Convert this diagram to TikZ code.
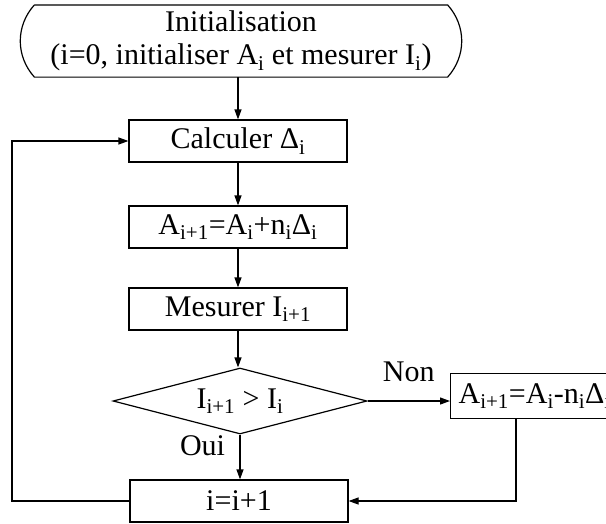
\documentclass[tikz,border=0pt]{standalone}
\usepackage{fontspec}
\setmainfont{Liberation Serif}
\usetikzlibrary{arrows.meta,shapes.geometric}

\begin{document}
\begin{tikzpicture}[
    >={Triangle[length=10pt,width=7pt]},
    x=1pt, y=-1pt,
    line width=1.2pt,
    every node/.style={font=\fontsize{30}{33}\selectfont},
    etape/.style={draw, minimum width=218pt, minimum height=42pt, inner sep=0pt},
    test/.style={draw, diamond, aspect=3.85, minimum width=254pt, minimum height=66pt, inner sep=0pt}
]

\clip (0,0) rectangle (606,523);

% Initialisation
\node[
    minimum width=412pt,
    minimum height=71pt,
    inner sep=0pt,
    align=center
] (init) at (241,41) {Initialisation\\(i=0, initialiser A\textsubscript{i} et mesurer I\textsubscript{i})};

\draw (init.north west) -- (init.north east)
    to[bend left=42] (init.south east) -- (init.south west)
    to[bend left=42] (init.north west);

% Etapes de la boucle
\node[etape] (calc) at (238,141) {Calculer Δ\textsubscript{i}};
\node[etape] (maj) at (238,227) {A\textsubscript{i+1}=A\textsubscript{i}+n\textsubscript{i}Δ\textsubscript{i}};
\node[etape] (mes) at (238,309) {Mesurer I\textsubscript{i+1}};

% Test
\node[test] (dia) at (240,401) {I\textsubscript{i+1} > I\textsubscript{i}};

% Retour arriere
\node[
    draw,
    anchor=west,
    minimum height=45pt,
    inner xsep=8pt,
    inner ysep=0pt
] (recul) at (450,396) {A\textsubscript{i+1}=A\textsubscript{i}-n\textsubscript{i}Δ\textsubscript{i}};

% Increment
\node[etape] (incr) at (239,501) {i=i+1};

\coordinate (gauche) at (12,141);
\coordinate (chute) at ([xshift=66pt]recul.south west);

% Liaisons
\draw[->] (calc.north |- init.south) -- (calc.north);
\draw[->] (calc) -- (maj);
\draw[->] (maj) -- (mes);
\draw[->] (mes.south) -- (mes.south |- dia.north);

\draw[->] (dia.east) -- (dia.east -| recul.west)
    node[midway, above=15pt] {Non};

\draw[->] (dia.south) -- (dia.south |- incr.north)
    node[pos=0.25, left=11pt] {Oui};

\draw[->] (chute) |- (incr.east);
\draw[->] (incr.west) -| (gauche) -- (calc.west);

\end{tikzpicture}
\end{document}
